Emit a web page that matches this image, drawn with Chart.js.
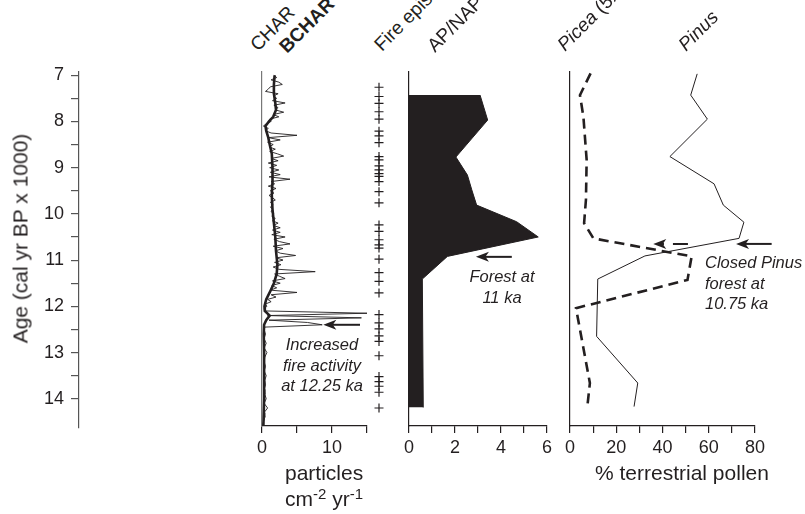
<!DOCTYPE html>
<html>
<head>
<meta charset="utf-8">
<script src="https://cdn.jsdelivr.net/npm/chart.js@4.4.0/dist/chart.umd.min.js"></script>
<style>
  body { margin: 0; background: #fff; }
  #wrap { position: relative; width: 805px; height: 514px; overflow: hidden;
          font-family: "Liberation Sans", Arial, sans-serif; color: #231f20; }
  canvas { position: absolute; }
  .lbl { position: absolute; white-space: nowrap; }
  .rot { font-size: 19px; line-height: 19px; transform-origin: 0 100%; transform: rotate(-45deg); }
  .note { font-style: italic; font-size: 16.5px; line-height: 20.5px; }
  .big { font-size: 21px; line-height: 25px; }
  sup { font-size: 15px; vertical-align: 7px; line-height: 0; }
</style>
</head>
<body>
<div id="wrap">
  <canvas id="ageAxis"></canvas>
  <canvas id="charChart"></canvas>
  <canvas id="fireChart"></canvas>
  <canvas id="apChart"></canvas>
  <canvas id="pollenChart"></canvas>

  <!-- column headings, cut by the top edge like the original -->
  <div class="lbl rot" style="left:260px; top:35px;">CHAR</div>
  <div class="lbl rot" style="left:289px; top:37px; font-weight:bold;">BCHAR</div>
  <div class="lbl rot" style="left:384px; top:35px;">Fire episodes</div>
  <div class="lbl rot" style="left:437px; top:36px;">AP/NAP</div>
  <div class="lbl rot" style="left:567px; top:35px;"><i>Picea</i> (5x)</div>
  <div class="lbl rot" style="left:688px; top:35px;"><i>Pinus</i></div>

  <div class="lbl big" style="left:-130px; top:226px; width:300px; text-align:center; transform:rotate(-90deg);">Age (cal yr BP x 1000)</div>

  <div class="lbl big" style="left:285px; top:460px;">particles</div>
  <div class="lbl big" style="left:285px; top:486px;">cm<sup>-2</sup> yr<sup>-1</sup></div>
  <div class="lbl big" style="left:595px; top:460px;">% terrestrial pollen</div>

  <div class="lbl note" style="left:262px; top:334px; width:120px; text-align:center;">Increased<br>fire activity<br>at 12.25 ka</div>
  <div class="lbl note" style="left:452px; top:266px; width:100px; text-align:center;">Forest at<br>11 ka</div>
  <div class="lbl note" style="left:705px; top:252px;">Closed Pinus<br>forest at<br>10.75 ka</div>
</div>

<script>
// ---- valeurs ----
const ageTicks = [7, 7.5, 8, 8.5, 9, 9.5, 10, 10.5, 11, 11.5, 12, 12.5, 13, 13.5, 14];
const ageTickLabels = [7, 8, 9, 10, 11, 12, 13, 14];
const charTicks = [0, 5, 10, 15];
const charTickLabels = [0, 10];
const apTicks = [0, 1, 2, 3, 4, 5, 6];
const apTickLabels = [0, 2, 4, 6];
const pollenTicks = [0, 10, 20, 30, 40, 50, 60, 70, 80];
const pollenTickLabels = [0, 20, 40, 60, 80];

// CHAR (trait fin)
const charAges = [7.00, 7.05, 7.10, 7.15, 7.20, 7.25, 7.30, 7.35, 7.40, 7.45, 7.50, 7.55, 7.60, 7.65, 7.70,
  7.75, 7.80, 7.85, 7.90, 7.95, 8.00, 8.05, 8.10, 8.15, 8.20, 8.25, 8.30, 8.35, 8.40, 8.45, 8.50, 8.55,
  8.60, 8.65, 8.70, 8.75, 8.80, 8.85, 8.90, 8.95, 9.00, 9.05, 9.10, 9.15, 9.20, 9.25, 9.30, 9.35, 9.40,
  9.45, 9.50, 9.55, 9.60, 9.65, 9.70, 9.75, 9.80, 9.85, 9.90, 9.95, 10.00, 10.05, 10.10, 10.15, 10.20,
  10.25, 10.30, 10.35, 10.40, 10.45, 10.50, 10.55, 10.60, 10.65, 10.70, 10.75, 10.80, 10.85, 10.90,
  10.95, 11.00, 11.05, 11.10, 11.15, 11.20, 11.25, 11.30, 11.35, 11.40, 11.45, 11.50, 11.55, 11.60,
  11.65, 11.70, 11.75, 11.80, 11.85, 11.90, 11.95, 12.00, 12.05, 12.10, 12.15, 12.20, 12.25, 12.30,
  12.35, 12.40, 12.45, 12.50, 12.60, 12.70, 12.80, 12.90, 13.00, 13.10, 13.20, 13.30, 13.40, 13.50,
  13.60, 13.70, 13.80, 13.90, 14.00, 14.10, 14.20, 14.30, 14.40, 14.50, 14.58];
const charValues = [1.7, 2.1, 1.3, 2.4, 2.9, 1.2, 0.9, 0.5, 2.3, 1.6, 2.1, 1.5, 3.3, 1.7, 2.3,
  1.9, 3.1, 1.6, 2.4, 1.1, 1.3, 0.6, 0.2, 0.9, 0.5, 1.3, 5.0, 0.9, 2.6, 0.8, 1.6, 1.0,
  1.9, 1.1, 2.2, 3.1, 1.3, 2.3, 0.9, 2.1, 1.1, 2.4, 1.2, 2.6, 1.0, 4.0, 1.3, 1.8, 0.9,
  2.0, 1.2, 1.7, 1.0, 1.5, 1.9, 1.2, 1.6, 1.2, 1.5, 1.3, 1.7, 1.4, 1.9, 1.5, 2.3,
  1.6, 2.6, 1.5, 2.6, 1.4, 3.3, 1.7, 2.5, 4.0, 1.6, 3.0, 1.9, 2.6, 4.8,
  2.0, 3.0, 1.8, 2.7, 1.6, 2.4, 7.6, 1.8, 2.5, 3.3, 1.5, 2.6, 1.4, 2.1,
  1.2, 5.0, 1.3, 2.0, 0.8, 1.3, 0.5, 0.7, 0.3, 0.4, 15.0, 0.8, 14.2, 1.0,
  6.5, 8.6, 0.4, 0.3, 0.5, 0.3, 0.6, 0.3, 0.7, 0.4, 0.3, 0.5, 0.3, 0.6,
  0.4, 0.5, 0.3, 0.4, 0.6, 0.3, 0.8, 0.3, 0.4, 0.2, 0.1];

// BCHAR (trait épais)
const bcharAges = [7.0, 7.2, 7.4, 7.6, 7.75, 7.9, 8.0, 8.1, 8.2, 8.35, 8.5, 8.7, 9.0, 9.3, 9.6, 9.9,
  10.2, 10.5, 10.8, 11.1, 11.3, 11.5, 11.7, 11.85, 12.0, 12.1, 12.2, 12.3, 12.4, 12.6, 13.0, 13.5, 14.0, 14.58];
const bcharValues = [1.8, 1.7, 1.7, 1.9, 2.0, 1.6, 1.0, 0.5, 0.6, 0.9, 1.1, 1.4, 1.5, 1.5, 1.4, 1.5,
  1.7, 1.9, 2.0, 2.2, 2.1, 1.7, 1.1, 0.6, 0.35, 0.4, 1.1, 0.6, 0.3, 0.25, 0.3, 0.3, 0.3, 0.2];

// épisodes de feu
const fireAges = [7.26, 7.46, 7.61, 7.79, 7.95, 8.21, 8.31, 8.46, 8.76, 8.83, 8.96, 9.05, 9.13, 9.19,
  9.30, 9.52, 9.76, 10.24, 10.38, 10.56, 10.67, 10.74, 10.98, 11.27, 11.46, 11.71, 12.18, 12.36,
  12.49, 12.64, 12.76, 13.07, 13.52, 13.63, 13.73, 13.86, 14.20];

// rapport AP/NAP
const apAges = [7.43, 7.97, 8.77, 9.16, 9.48, 9.81, 10.17, 10.50, 10.92, 11.41, 14.19];
const apValues = [3.09, 3.42, 2.04, 2.54, 2.73, 2.94, 4.68, 5.62, 1.67, 0.58, 0.62];

// pollen (% terrestre)
const piceaAges = [6.96, 7.43, 7.90, 8.83, 9.69, 10.20, 10.53, 10.92, 11.43, 12.04, 13.66, 14.17];
const piceaValues = [8.9, 4.3, 5.8, 7.2, 6.9, 6.1, 10.1, 52.6, 50.8, 2.6, 8.6, 7.5];
const pinusAges = [6.97, 7.43, 7.95, 8.76, 9.35, 9.81, 10.18, 10.53, 10.91, 11.41, 12.65, 13.66, 14.17];
const pinusValues = [55, 52.2, 59.4, 43.2, 62.3, 66.3, 75.2, 73.1, 32.4, 12, 11.5, 29.3, 27.7];

// flèches (âge, départ, pointe)
const charArrow = { age: 12.40, from: 14.0, to: 8.76 };
const apArrow = { age: 10.93, from: 4.47, to: 2.91 };
const pinusArrow = { age: 10.65, from: 87.2, to: 71.8 };
const piceaArrow = { age: 10.65, from: 51.0, to: 36.0, dashed: true };

// ---- mise en page ----
const INK = '#231f20';
const YMIN = 6.93, PANEL_YMAX = 14.59, AXIS_YMAX = 14.63;

const pts = (ages, vals) => ages.map((a, i) => ({ x: vals[i], y: a }));

function xAxis(min, max, ticks, labels) {
  return {
    type: 'linear', position: 'bottom', min: min, max: max,
    afterBuildTicks: s => { s.ticks = ticks.map(v => ({ value: v })); },
    afterFit: s => { s.height = 40; },
    grid: { drawOnChartArea: false, drawTicks: true, tickLength: 7, color: INK, lineWidth: 1.2 },
    border: { display: true, color: INK, width: 1.2 },
    ticks: { autoSkip: false, maxRotation: 0, padding: 4, color: INK,
             font: { size: 18, family: '"Liberation Sans", Arial, sans-serif' },
             callback: v => labels.includes(v) ? String(v) : '' }
  };
}

function yHidden(showLine, color) {
  return {
    type: 'linear', reverse: true, min: YMIN, max: PANEL_YMAX,
    afterFit: s => { s.width = 0; },
    grid: { display: false },
    ticks: { display: false },
    border: { display: showLine, color: color || INK, width: 1.2 }
  };
}

// petites flèches d'annotation
function arrows(list) {
  return {
    id: 'arrows',
    afterDatasetsDraw(chart) {
      const { ctx, scales: { x, y } } = chart;
      ctx.save();
      ctx.strokeStyle = INK;
      ctx.fillStyle = INK;
      ctx.lineWidth = 2;
      list.forEach(a => {
        const tail = x.getPixelForValue(a.from);
        const tip = x.getPixelForValue(a.to);
        const py = y.getPixelForValue(a.age);
        ctx.setLineDash(a.dashed ? [15, 9] : []);
        ctx.beginPath();
        ctx.moveTo(tail, py);
        ctx.lineTo(tip + 9, py);
        ctx.stroke();
        ctx.setLineDash([]);
        ctx.beginPath();
        ctx.moveTo(tip, py);
        ctx.lineTo(tip + 13, py - 5);
        ctx.lineTo(tip + 9.5, py);
        ctx.lineTo(tip + 13, py + 5);
        ctx.closePath();
        ctx.fill();
      });
      ctx.restore();
    }
  };
}

function makeChart(id, box, scales, datasets, plugins) {
  const cv = document.getElementById(id);
  cv.width = box.w;
  cv.height = box.h;
  cv.style.left = box.x + 'px';
  cv.style.top = box.y + 'px';
  return new Chart(cv, {
    type: 'line',
    data: { datasets: datasets },
    options: {
      responsive: false,
      animation: false,
      indexAxis: 'y',
      layout: { padding: box.pad },
      plugins: { legend: { display: false }, tooltip: { enabled: false } },
      elements: { point: { radius: 0 }, line: { tension: 0 } },
      scales: scales
    },
    plugins: plugins || []
  });
}

// axe des âges (marges pour absorber le débord des étiquettes)
makeChart('ageAxis', { x: 0, y: 40, w: 100, h: 418, pad: { top: 32, left: 0, right: 20, bottom: 30 } }, {
  x: { type: 'linear', display: false, min: 0, max: 1 },
  y: {
    type: 'linear', reverse: true, min: YMIN, max: AXIS_YMAX,
    afterBuildTicks: s => { s.ticks = ageTicks.map(v => ({ value: v })); },
    afterFit: s => { s.width = 79; },
    grid: { drawOnChartArea: false, drawTicks: true, tickLength: 8, color: '#555', lineWidth: 1.2 },
    border: { display: true, color: '#555', width: 1.2 },
    ticks: { autoSkip: false, padding: 7, color: INK,
             font: { size: 18, family: '"Liberation Sans", Arial, sans-serif' },
             callback: v => ageTickLabels.includes(v) ? String(v) : '' }
  }
}, []);

// CHAR / BCHAR
makeChart('charChart', { x: 240, y: 60, w: 147, h: 406, pad: { top: 12, left: 22, right: 20, bottom: 0 } }, {
  x: xAxis(0, 15, charTicks, charTickLabels),
  y: yHidden(true, '#777')
}, [
  { data: pts(bcharAges, bcharValues), borderColor: INK, borderWidth: 2.6, fill: false },
  { data: pts(charAges, charValues), borderColor: INK, borderWidth: 0.9, fill: false }
], [arrows([charArrow])]);

// épisodes de feu
makeChart('fireChart', { x: 360, y: 60, w: 38, h: 406, pad: { top: 12, left: 10, right: 10, bottom: 40 } }, {
  x: { type: 'linear', display: false, min: 0, max: 1 },
  y: { type: 'linear', display: false, reverse: true, min: YMIN, max: PANEL_YMAX }
}, [
  { data: fireAges.map(a => ({ x: 0.5, y: a })), showLine: false, pointStyle: 'cross',
    pointRadius: 4.5, borderColor: INK, borderWidth: 1.2 }
]);

// AP/NAP
makeChart('apChart', { x: 395, y: 60, w: 168, h: 406, pad: { top: 12, left: 14, right: 16, bottom: 0 } }, {
  x: xAxis(0, 6, apTicks, apTickLabels),
  y: yHidden(true, INK)
}, [
  { data: pts(apAges, apValues), borderColor: INK, borderWidth: 1, backgroundColor: INK, fill: 'origin' }
], [arrows([apArrow])]);

// Picea / Pinus
makeChart('pollenChart', { x: 555, y: 60, w: 245, h: 406, pad: { top: 12, left: 15, right: 45, bottom: 0 } }, {
  x: xAxis(0, 80, pollenTicks, pollenTickLabels),
  y: yHidden(true, INK)
}, [
  { data: pts(piceaAges, piceaValues), borderColor: INK, borderWidth: 2.6, borderDash: [10, 6], fill: false },
  { data: pts(pinusAges, pinusValues), borderColor: INK, borderWidth: 1, fill: false }
], [arrows([pinusArrow, piceaArrow])]);
</script>
</body>
</html>
